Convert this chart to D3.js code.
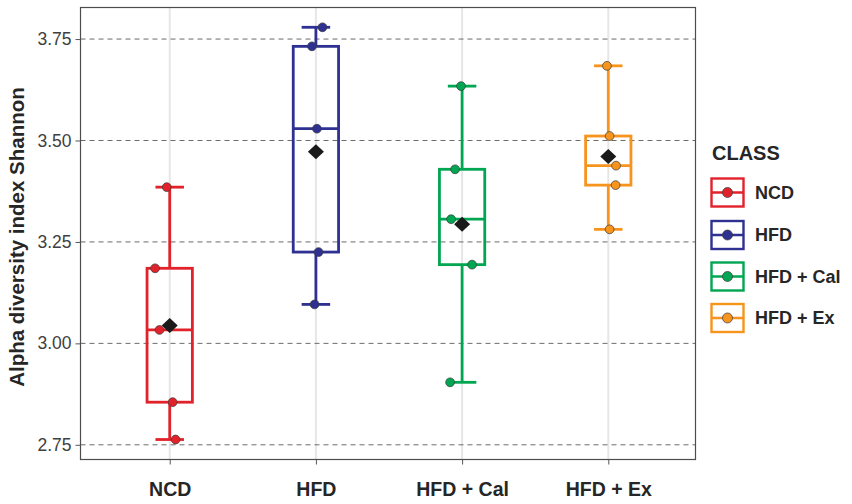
<!DOCTYPE html>
<html>
<head>
<meta charset="utf-8">
<script src="https://cdn.jsdelivr.net/npm/d3@7"></script>
<style>
  html, body { margin: 0; padding: 0; background: #ffffff; }
  svg { display: block; font-family: "Liberation Sans", Arial, sans-serif; }
</style>
</head>
<body>
<svg id="chart" width="852" height="504"></svg>
<script>
// Shannon alpha diversity per sample, one array per group
const classes = ["NCD", "HFD", "HFD + Cal", "HFD + Ex"];
const colors  = ["#e2222b", "#2e3192", "#00a651", "#f7941d"];
const ncdValues = [3.385, 3.185, 3.033, 2.855, 2.763];
const hfdValues = [3.779, 3.732, 3.529, 3.225, 3.096];
const calValues = [3.634, 3.429, 3.306, 3.194, 2.904];
const exValues  = [3.684, 3.511, 3.438, 3.390, 3.281];
// horizontal jitter of each sample, in category-step units
const ncdJitter = [-0.02, -0.10, -0.07, 0.02, 0.04];
const hfdJitter = [0.045, -0.027, 0.007, 0.018, -0.009];
const calJitter = [-0.007, -0.048, -0.075, 0.068, -0.082];
const exJitter  = [-0.009, 0.009, 0.053, 0.05, 0.009];
const yTicks = [2.75, 3.00, 3.25, 3.50, 3.75];

const groups = [ncdValues, hfdValues, calValues, exValues];
const jitters = [ncdJitter, hfdJitter, calJitter, exJitter];

const svg = d3.select("#chart");
const panel = { left: 80.5, right: 695.5, top: 7.5, bottom: 459.5 };

const x = d3.scalePoint().domain(classes).range([82, 696]).padding(0.6);
const step = x.step();
const y = d3.scaleLinear().domain([2.715, 3.829]).range([459, 7]);

// panel background
svg.append("rect")
  .attr("x", panel.left).attr("y", panel.top)
  .attr("width", panel.right - panel.left).attr("height", panel.bottom - panel.top)
  .attr("fill", "#ffffff");

// vertical grid at category centres
svg.append("g").selectAll("line").data(classes).join("line")
  .attr("x1", d => x(d)).attr("x2", d => x(d))
  .attr("y1", panel.top).attr("y2", panel.bottom)
  .attr("stroke", "#e6e6e6").attr("stroke-width", 2);

// dashed horizontal grid at y ticks
svg.append("g").selectAll("line").data(yTicks).join("line")
  .attr("x1", panel.left).attr("x2", panel.right)
  .attr("y1", d => y(d)).attr("y2", d => y(d))
  .attr("stroke", "#6b6b6b").attr("stroke-width", 1)
  .attr("stroke-dasharray", "5,4");

// box plot statistics
const stats = groups.map((vals, i) => {
  const s = vals.slice().sort(d3.ascending);
  const q1 = d3.quantile(s, 0.25), med = d3.quantile(s, 0.5), q3 = d3.quantile(s, 0.75);
  const iqr = q3 - q1;
  const lo = d3.min(s.filter(v => v >= q1 - 1.5 * iqr));
  const hi = d3.max(s.filter(v => v <= q3 + 1.5 * iqr));
  return { cls: classes[i], color: colors[i], q1, med, q3, lo, hi, mean: d3.mean(vals) };
});

const boxW = step * 0.31, capW = step * 0.195, lw = 2.8;
const boxes = svg.append("g").selectAll("g").data(stats).join("g");
// whiskers
boxes.append("line")
  .attr("x1", d => x(d.cls)).attr("x2", d => x(d.cls))
  .attr("y1", d => y(d.hi)).attr("y2", d => y(d.q3))
  .attr("stroke", d => d.color).attr("stroke-width", lw);
boxes.append("line")
  .attr("x1", d => x(d.cls)).attr("x2", d => x(d.cls))
  .attr("y1", d => y(d.q1)).attr("y2", d => y(d.lo))
  .attr("stroke", d => d.color).attr("stroke-width", lw);
// whisker caps
boxes.append("line")
  .attr("x1", d => x(d.cls) - capW / 2).attr("x2", d => x(d.cls) + capW / 2)
  .attr("y1", d => y(d.hi)).attr("y2", d => y(d.hi))
  .attr("stroke", d => d.color).attr("stroke-width", lw);
boxes.append("line")
  .attr("x1", d => x(d.cls) - capW / 2).attr("x2", d => x(d.cls) + capW / 2)
  .attr("y1", d => y(d.lo)).attr("y2", d => y(d.lo))
  .attr("stroke", d => d.color).attr("stroke-width", lw);
// box
boxes.append("rect")
  .attr("x", d => x(d.cls) - boxW / 2).attr("width", boxW)
  .attr("y", d => y(d.q3)).attr("height", d => y(d.q1) - y(d.q3))
  .attr("fill", "none").attr("stroke", d => d.color).attr("stroke-width", lw);
// median
boxes.append("line")
  .attr("x1", d => x(d.cls) - boxW / 2).attr("x2", d => x(d.cls) + boxW / 2)
  .attr("y1", d => y(d.med)).attr("y2", d => y(d.med))
  .attr("stroke", d => d.color).attr("stroke-width", lw);

// group means as diamonds
const diamond = (cx, cy) => `M${cx},${cy - 7.5}L${cx + 8},${cy}L${cx},${cy + 7.5}L${cx - 8},${cy}Z`;
svg.append("g").selectAll("path").data(stats).join("path")
  .attr("d", d => diamond(x(d.cls), y(d.mean)))
  .attr("fill", "#1a1a1a");

// jittered samples
const pts = [];
groups.forEach((vals, i) => vals.forEach((v, j) =>
  pts.push({ cls: classes[i], color: colors[i], v, jit: jitters[i][j] })));
svg.append("g").selectAll("circle").data(pts).join("circle")
  .attr("cx", d => x(d.cls) + d.jit * step)
  .attr("cy", d => y(d.v))
  .attr("r", 4.4)
  .attr("fill", d => d.color)
  .attr("stroke", "#3a3a3a").attr("stroke-width", 0.7);

// panel border
svg.append("rect")
  .attr("x", panel.left).attr("y", panel.top)
  .attr("width", panel.right - panel.left).attr("height", panel.bottom - panel.top)
  .attr("fill", "none").attr("stroke", "#4d4d4d").attr("stroke-width", 1.2);

// y axis
const yAxis = svg.append("g")
  .attr("transform", `translate(${panel.left},0)`)
  .call(d3.axisLeft(y).tickValues(yTicks).tickFormat(d3.format(".2f")).tickSize(5).tickPadding(4));
yAxis.select(".domain").remove();
yAxis.selectAll(".tick line").attr("stroke", "#555");
yAxis.selectAll(".tick text")
  .attr("fill", "#404040").style("font-size", "17.5px")
  .style("font-family", "'Liberation Sans', Arial, sans-serif");

// x axis
const xAxis = svg.append("g")
  .attr("transform", `translate(0,${panel.bottom})`)
  .call(d3.axisBottom(x).tickSize(5).tickPadding(18));
xAxis.select(".domain").remove();
xAxis.selectAll(".tick line").attr("stroke", "#555");
xAxis.selectAll(".tick text")
  .attr("fill", "#262626").style("font-size", "19.5px").style("font-weight", "bold")
  .style("font-family", "'Liberation Sans', Arial, sans-serif");

// y axis title
svg.append("text")
  .attr("transform", `translate(24,237) rotate(-90)`)
  .attr("text-anchor", "middle")
  .attr("fill", "#262626")
  .style("font-size", "20.5px").style("font-weight", "bold")
  .text("Alpha diversity index Shannon");

// legend
const legend = svg.append("g").attr("transform", "translate(711,0)");
legend.append("text")
  .attr("x", 1).attr("y", 160)
  .attr("fill", "#262626")
  .style("font-size", "20px").style("font-weight", "bold")
  .text("CLASS");
const keyW = 32, keyH = 28, keyCy = [192.5, 235, 276.5, 318];
const keys = legend.selectAll("g.key").data(classes).join("g")
  .attr("class", "key")
  .attr("transform", (d, i) => `translate(0,${keyCy[i]})`);
keys.append("rect")
  .attr("x", 0.5).attr("y", -keyH / 2).attr("width", keyW).attr("height", keyH)
  .attr("fill", "#ffffff").attr("stroke", (d, i) => colors[i]).attr("stroke-width", 2.4);
keys.append("line")
  .attr("x1", 0.5).attr("x2", keyW + 0.5).attr("y1", 0).attr("y2", 0)
  .attr("stroke", (d, i) => colors[i]).attr("stroke-width", 2.4);
keys.append("circle")
  .attr("cx", keyW / 2 + 0.5).attr("cy", 0).attr("r", 5)
  .attr("fill", (d, i) => colors[i])
  .attr("stroke", "#3a3a3a").attr("stroke-width", 0.7);
keys.append("text")
  .attr("x", 44).attr("y", 0).attr("dy", "0.36em")
  .attr("fill", "#262626")
  .style("font-size", "18px").style("font-weight", "bold")
  .text(d => d);
</script>
</body>
</html>
